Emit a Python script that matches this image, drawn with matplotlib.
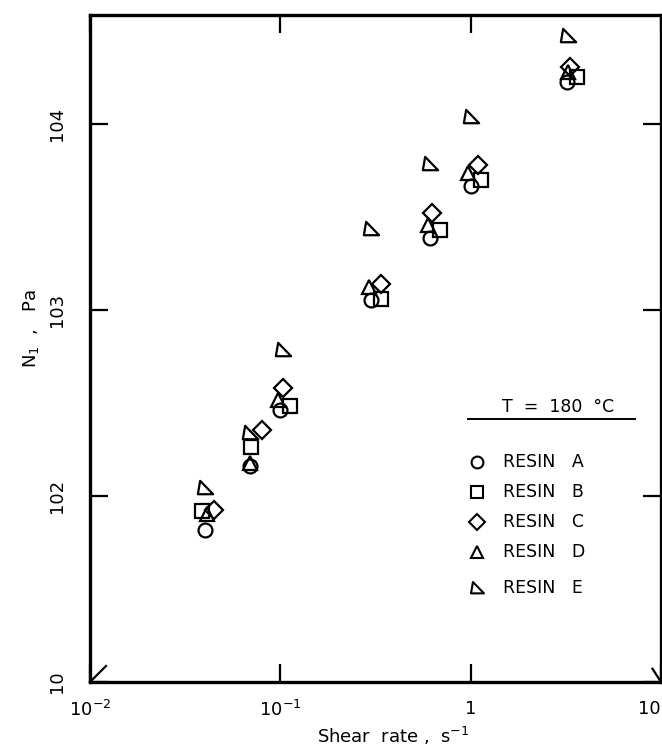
import matplotlib
matplotlib.use("Agg")
import matplotlib.pyplot as plt
from matplotlib.path import Path

# N1 vs shear rate
resins = ["A", "B", "C", "D", "E"]

rate_A = [0.040, 0.069, 0.100, 0.30, 0.61, 1.00, 3.20]
n1_A = [66, 145, 290, 1130, 2440, 4640, 16800]

rate_B = [0.039, 0.070, 0.113, 0.34, 0.69, 1.14, 3.60]
n1_B = [83, 183, 305, 1150, 2690, 5000, 17900]

rate_C = [0.045, 0.080, 0.103, 0.336, 0.63, 1.09, 3.34]
n1_C = [84, 226, 381, 1380, 3330, 6030, 20200]

rate_D = [0.041, 0.069, 0.097, 0.294, 0.594, 0.966, 3.24]
n1_D = [80, 150, 328, 1330, 2870, 5460, 19000]

rate_E = [0.040, 0.069, 0.103, 0.30, 0.61, 1.00, 3.25]
n1_E = [110, 218, 610, 2720, 6100, 10900, 29700]

x_ticks = [1e-2, 1e-1, 1, 10]
x_ticklabels = ["10$^{-2}$", "10$^{-1}$", "1", "10"]
y_ticks = [10, 100, 1000, 10000]
y_ticklabels = ["10", "102", "103", "104"]

# right triangle used for resin E
tri_E = Path([(-0.7, 1.0), (-1.0, -0.75), (1.0, -0.75), (-0.7, 1.0)],
             [Path.MOVETO, Path.LINETO, Path.LINETO, Path.CLOSEPOLY])
markers = {"A": "o", "B": "s", "C": "D", "D": "^", "E": tri_E}
sizes = {"A": 10, "B": 9.5, "C": 9.5, "D": 10, "E": 11}
data = {"A": (rate_A, n1_A), "B": (rate_B, n1_B), "C": (rate_C, n1_C),
        "D": (rate_D, n1_D), "E": (rate_E, n1_E)}

plt.rcParams["font.family"] = "DejaVu Sans"
fig = plt.figure(figsize=(6.62, 7.52), dpi=100)
ax = fig.add_axes([90 / 662, 1 - 682 / 752, 571 / 662, (682 - 15) / 752])

for r in resins:
    x, y = data[r]
    ax.plot(x, y, linestyle="none", marker=markers[r], ms=sizes[r],
            mfc="none", mec="black", mew=1.6, clip_on=False)

ax.set_xscale("log")
ax.set_yscale("log")
ax.set_xlim(1e-2, 10)
ax.set_ylim(10, 10 ** 4.586)
ax.set_xticks(x_ticks)
ax.set_xticklabels(x_ticklabels, fontsize=13)
ax.get_xticklabels()[-1].set_ha("right")  # keep the last label inside the figure
ax.set_yticks(y_ticks)
ax.set_yticklabels(y_ticklabels, fontsize=13, rotation=90, va="center")
ax.minorticks_off()
ax.tick_params(direction="in", length=13, width=1.6, top=True, right=True)
ax.tick_params(axis="x", pad=13)
ax.tick_params(axis="y", pad=17)
for s in ax.spines.values():
    s.set_linewidth(2.4)

ax.set_xlabel("Shear  rate ,  s$^{-1}$", fontsize=13)
ax.xaxis.set_label_coords(0.53, -0.065)
ax.set_ylabel("N$_1$  ,   Pa", fontsize=13)
ax.yaxis.set_label_coords(-0.085, 0.53)

# little break marks at the bottom corners
ax.plot([0, 0.028], [0, 0.024], color="black", lw=1.6, transform=ax.transAxes, clip_on=False)
ax.plot([0.985, 1.0], [0.02, 0.0], color="black", lw=1.6, transform=ax.transAxes, clip_on=False)

# hand drawn legend
ax.text((502 - 90) / 571, (682 - 407) / 667, "T  =  180  °C", fontsize=12.5,
        transform=ax.transAxes, va="center", ha="left")
ax.plot([(468 - 90) / 571, (635 - 90) / 571], [(682 - 419) / 667] * 2,
        color="black", lw=1.4, transform=ax.transAxes)
leg_y = [462, 492, 522, 552, 588]
for r, py in zip(resins, leg_y):
    ya = (682 - py) / 667
    ax.plot([(477 - 90) / 571], [ya], linestyle="none", marker=markers[r],
            ms=sizes[r] * 0.85, mfc="none", mec="black", mew=1.5, transform=ax.transAxes)
    ax.text((503 - 90) / 571, ya, "RESIN   " + r, fontsize=12.5,
            transform=ax.transAxes, va="center", ha="left")

fig.savefig("out.png", dpi=100)
